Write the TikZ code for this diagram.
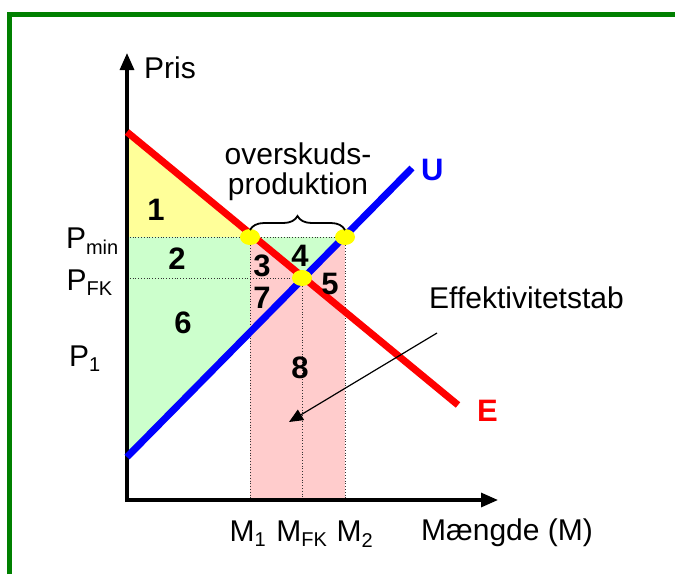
\documentclass[tikz,border=0pt]{standalone}
\usepackage{fontspec}
\setmainfont{Liberation Sans}
\usetikzlibrary{arrows.meta,decorations.pathreplacing,shapes.geometric}
\definecolor{frame}{RGB}{0,128,0}
\definecolor{yel}{RGB}{255,255,153}
\definecolor{grn}{RGB}{204,255,204}
\definecolor{pnk}{RGB}{255,204,204}
\definecolor{dotc}{RGB}{255,255,0}
\newcommand{\sbs}[1]{\textsubscript{\fontsize{20}{22}\selectfont #1}}
\tikzset{
  lbl/.style={font=\fontsize{30}{30}\selectfont, inner sep=0pt},
  num/.style={font=\fontsize{31}{33}\selectfont\bfseries, inner sep=0pt},
  guide/.style={dotted, line width=0.8pt, black!80},
  axis/.style={line width=3.2pt, -{Triangle[length=17pt,width=14pt]}},
  curveE/.style={line width=7pt, red},
  curveU/.style={line width=7pt, blue},
  dotm/.style={fill=dotc, draw=none, ellipse, minimum width=20pt, minimum height=16pt, inner sep=0pt},
}
\begin{document}
\begin{tikzpicture}[x=1pt,y=-1pt]
\useasboundingbox (0,0) rectangle (675,574);
% frame
\draw[frame, line width=5pt] (9.5,574) -- (9.5,14.5) -- (675,14.5);
% key coordinates
\coordinate (O) at (127,500);
\coordinate (Etop) at (127,132);
\coordinate (Eend) at (458,405);
\coordinate (Ubot) at (127,457);
\coordinate (Uend) at (412,168);
\coordinate (A) at (250,237);
\coordinate (B) at (345,237);
\coordinate (C) at (302,278);
\coordinate (Pm) at (127,237);
\coordinate (Pf) at (127,278);
\coordinate (Ub) at (250,332);
% fills
\fill[yel] (Etop) -- (A) -- (Pm) -- cycle;
\fill[grn] (Pm) -- (A) -- (Ub) -- (Ubot) -- cycle;
\fill[pnk] (A) -- (B) -- (345,500) -- (250,500) -- cycle;
\fill[grn] (A) -- (B) -- (C) -- cycle;
% guides
\draw[guide] (Pm) -- (B);
\draw[guide] (Pf) -- (C);
\draw[guide] (A) -- (250,500);
\draw[guide] (C) -- (302,500);
\draw[guide] (B) -- (345,500);
% axes
\draw[axis] (127,502) -- (127,53);
\draw[axis] (125.4,500) -- (498,500);
% curves
\draw[curveE] (Etop) -- (Eend);
\draw[curveU] (Ubot) -- (Uend);
% dots
\node[dotm] (dA) at (A) {};
\node[dotm] (dB) at (B) {};
\node[dotm] (dC) at (C) {};
% brace
\draw[decorate, decoration={brace, amplitude=14pt}, line width=1.8pt] (250,230) -- (345,230);
% texts
\node[lbl, anchor=west] (pris) at (144,68) {Pris};
\node[lbl, anchor=east] (pmin) at (119,241) {P\sbs{min}};
\node[lbl, anchor=east] (pfk) at (113,283) {P\sbs{FK}};
\node[lbl] (p1) at (85,359) {P\sbs{1}};
\node[lbl] (m1) at (248,534) {M\sbs{1}};
\node[lbl] (mfk) at (302,534) {M\sbs{FK}};
\node[lbl] (m2) at (355,534) {M\sbs{2}};
\node[lbl, anchor=west] (mg) at (421,533) {Mængde (M)};
\node[lbl, align=center] (ov) at (298,172) {overskuds-\\produktion};
\node[lbl, anchor=west, text=blue, font=\fontsize{31}{33}\selectfont\bfseries] (ul) at (421,170) {U};
\node[lbl, anchor=west, text=red, font=\fontsize{31}{33}\selectfont\bfseries] (el) at (477,411) {E};
\node[lbl, anchor=west] (eff) at (429,298) {Effektivitetstab};
\node[num] (n1) at (156,210) {1};
\node[num] (n2) at (177,259) {2};
\node[num] (n3) at (262,266) {3};
\node[num] (n4) at (300,256) {4};
\node[num] (n5) at (330,284) {5};
\node[num] (n6) at (183,323) {6};
\node[num] (n7) at (262,298) {7};
\node[num] (n8) at (300,368) {8};
\coordinate (arS) at (437,333);
\coordinate (arE) at (289,422);
\draw[line width=1.2pt, -{Triangle[length=14pt,width=12pt]}] (arS) -- (arE);
\end{tikzpicture}
\end{document}
